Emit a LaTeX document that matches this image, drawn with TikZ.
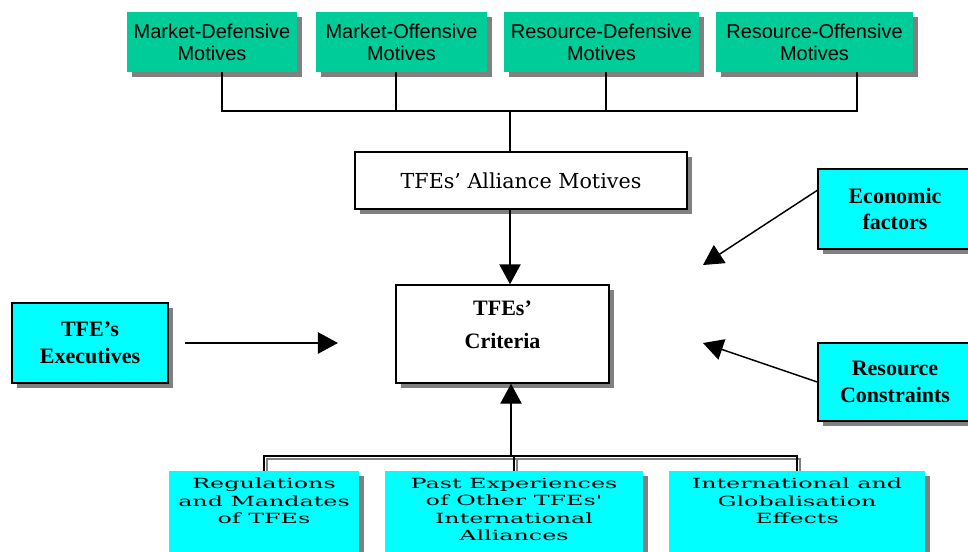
\documentclass[tikz,border=0pt]{standalone}
\usepackage{fontspec}
\setmainfont{Liberation Serif}
\newfontfamily\arialfont{Liberation Sans}
\newfontfamily\motivefont{DejaVu Serif}
\newfontfamily\widefont[FakeStretch=1.7]{DejaVu Serif}
\usetikzlibrary{arrows.meta}
\usetikzlibrary{shadows}
\usetikzlibrary{backgrounds}
\definecolor{motivegreen}{HTML}{00CC99}
\definecolor{factorcyan}{HTML}{00FFFF}
\definecolor{shadowgray}{HTML}{808080}
\newcommand{\boxtext}[2]{\begin{minipage}[t][75pt][t]{#1}\centering #2\end{minipage}}
\tikzstyle{boxshadow} = [drop shadow={shadow xshift=3.5pt, shadow yshift=-3.5pt, fill=shadowgray, opacity=1}]
\tikzstyle{motive} = [rectangle, boxshadow, fill=motivegreen, minimum height=45pt, inner sep=0pt, align=center, font=\arialfont\fontsize{15pt}{16.5pt}\selectfont]
\tikzstyle{factor} = [rectangle, boxshadow, draw=black, line width=1.1pt, fill=factorcyan, minimum width=115.5pt, minimum height=60pt, align=center, font=\fontsize{16.5pt}{20pt}\selectfont\bfseries]
\tikzstyle{central} = [rectangle, boxshadow, draw=black, line width=1.1pt, fill=white, inner sep=0pt, align=center]
\tikzstyle{influence} = [rectangle, boxshadow, fill=factorcyan, anchor=north, inner xsep=0pt, inner ysep=5pt, font=\widefont\fontsize{10.5pt}{13.1pt}\selectfont]
\tikzstyle{line} = [line width=1.1pt]
\tikzstyle{arrow} = [line width=1.1pt, -{Triangle[length=15pt, width=16pt]}]

\begin{document}
\begin{tikzpicture}[x=0.75pt, y=-0.75pt]

    \useasboundingbox (0,0) rectangle (968,551);

    % motives on top
    \node (mdm) [motive, minimum width=127.5pt] at (212,42) {Market-Defensive\\Motives};
    \node (mom) [motive, minimum width=128.25pt] at (401.5,42) {Market-Offensive\\Motives};
    \node (rdm) [motive, minimum width=146.25pt] at (601.5,42) {Resource-Defensive\\Motives};
    \node (rom) [motive, minimum width=147.75pt] at (814.5,42) {Resource-Offensive\\Motives};

    \node (alliance) [central, minimum width=249pt, minimum height=42.75pt, font=\motivefont\fontsize{15.5pt}{18pt}\selectfont] at (521,180.5) {TFEs’ Alliance Motives};
    \node (crit) [central, minimum width=159.75pt, minimum height=73.5pt, text depth=14pt, font=\fontsize{16.5pt}{25pt}\selectfont\bfseries] at (502.5,334) {TFEs’\\Criteria};

    \node (exec) [factor, minimum width=117pt] at (90,343) {TFE’s\\Executives};
    \node (econ) [factor] at (895,209) {Economic\\factors};
    \node (res) [factor, minimum height=58.5pt] at (895,382) {Resource\\Constraints};

    \node (reg) [influence] at (264,471) {\boxtext{142.5pt}{Regulations\\and Mandates\\of TFEs}};
    \node (past) [influence] at (514,471) {\boxtext{193.5pt}{Past Experiences\\of Other TFEs'\\International\\Alliances}};
    \node (glob) [influence] at (797,471) {\boxtext{192pt}{International and\\Globalisation\\Effects}};

    \coordinate (tophub) at (510,111);
    \coordinate (bothub) at (511,456);
    \coordinate (econtip) at (703,265);
    \coordinate (restip) at (703,343);

    \draw [line] ([xshift=7.5pt]mdm.south) |- (tophub);
    \draw [line] ([xshift=-4pt]mom.south) -- ([xshift=-4pt]mom.south |- tophub);
    \draw [line] ([xshift=3.5pt]rdm.south) -- ([xshift=3.5pt]rdm.south |- tophub);
    \draw [line] ([xshift=32pt]rom.south) |- (tophub);
    \draw [line] (tophub) -- (tophub |- alliance.north);

    \draw [arrow] (alliance.south -| tophub) -- (crit.north -| tophub);
    \draw [arrow, shorten <=12pt, shorten >=43pt] (exec.east) -- (crit.west |- exec.east);
    \draw [arrow] ([yshift=14pt]econ.west) -- (econtip);
    \draw [arrow] (res.west) -- (restip);

    \begin{scope}[on background layer]
        \begin{scope}[transform canvas={xshift=2.25pt, yshift=-2.25pt}, shadowgray]
            \draw [line] (reg.north) |- (bothub) -| (glob.north);
            \draw [line] (past.north) -- (past.north |- bothub);
        \end{scope}
        \draw [line] (reg.north) |- (bothub) -| (glob.north);
        \draw [line] (past.north) -- (past.north |- bothub);
    \end{scope}
    \draw [arrow] (bothub) -- (crit.south -| bothub);

\end{tikzpicture}
\end{document}
